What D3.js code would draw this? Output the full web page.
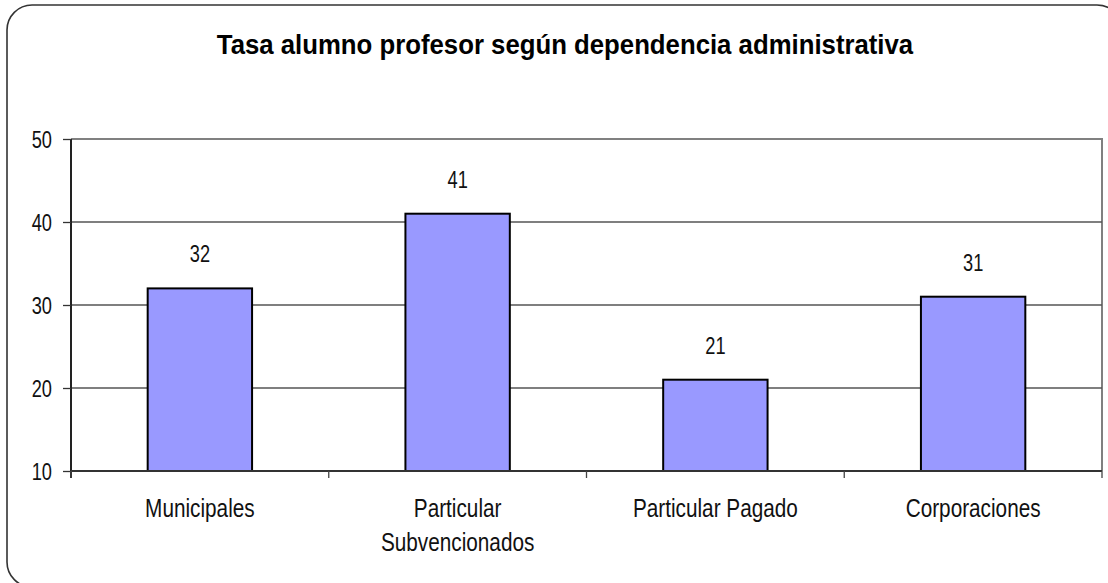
<!DOCTYPE html>
<html><head><meta charset="utf-8">
<script src="https://cdn.jsdelivr.net/npm/d3@7/dist/d3.min.js"></script>
<style>body{margin:0;background:#fff}svg{display:block}</style>
</head><body>
<svg id="c" width="1108" height="583"></svg>
<script>
const categories = [["Municipales"], ["Particular", "Subvencionados"], ["Particular Pagado"], ["Corporaciones"]];
const values = [32, 41, 21, 31];
const yTicks = [10, 20, 30, 40, 50];
const title = "Tasa alumno profesor según dependencia administrativa";

const svg = d3.select("#c");
const font = "'Liberation Sans', Arial, sans-serif";
const L = 71, R = 1102, T = 139, B = 471;
const SX = 0.83, SN = 0.76, ST = 0.92;

svg.append("rect").attr("x", 7).attr("y", 5).attr("width", 1115).attr("height", 582)
  .attr("rx", 25).attr("ry", 25).attr("fill", "#fff").attr("stroke", "#333").attr("stroke-width", 1.6);

const x = d3.scaleBand().domain(d3.range(categories.length)).range([L, R]).paddingInner(0).paddingOuter(0);
const y = d3.scaleLinear().domain([10, 50]).range([B, T]);

// plot border
svg.append("path").attr("d", `M${L},${T}H${R}V${B}`).attr("fill", "none").attr("stroke", "#808080").attr("stroke-width", 2);

// gridlines
svg.append("g").selectAll("line").data(yTicks.filter(d => d > 10 && d < 50)).join("line")
  .attr("x1", L).attr("x2", R).attr("y1", d => y(d)).attr("y2", d => y(d))
  .attr("stroke", "#555").attr("stroke-width", 1.3);

// bars
const bw = x.bandwidth() * 0.405;
svg.append("g").selectAll("rect").data(values).join("rect")
  .attr("x", (d, i) => x(i) + x.bandwidth() / 2 - bw / 2)
  .attr("y", d => y(d)).attr("width", bw).attr("height", d => y(10) - y(d))
  .attr("fill", "#9999FF").attr("stroke", "#000").attr("stroke-width", 2);

// value labels
svg.append("g").selectAll("text").data(values).join("text")
  .attr("transform", (d, i) => `translate(${x(i) + x.bandwidth() / 2},${y(d) - 26}) scale(${SN},1)`)
  .attr("text-anchor", "middle").attr("font-family", font).attr("font-size", 24).attr("fill", "#111")
  .text(d => d);

// y axis
const yAxis = svg.append("g").attr("transform", `translate(${L},0)`)
  .call(d3.axisLeft(y).tickValues(yTicks).tickSize(8).tickPadding(10).tickFormat(d3.format("d")));
yAxis.select(".domain").attr("stroke", "#222").attr("stroke-width", 2).attr("d", `M0,${T}V${B + 7}`);
yAxis.selectAll(".tick line").attr("stroke", "#333").attr("stroke-width", 1.3);
yAxis.selectAll(".tick text").attr("x", null).attr("dy", null)
  .attr("transform", "translate(-19,8) scale(" + SN + ",1)")
  .attr("text-anchor", "end")
  .attr("font-family", font).attr("font-size", 24).attr("fill", "#111");

// x axis
const xAxis = svg.append("g").attr("transform", `translate(0,${B})`);
xAxis.append("line").attr("x1", L).attr("x2", R).attr("y1", 0).attr("y2", 0).attr("stroke", "#333").attr("stroke-width", 2);
const bounds = d3.range(categories.length + 1).map(i => i < categories.length ? x(i) : x(i - 1) + x.bandwidth());
xAxis.selectAll("line.tk").data(bounds).join("line").attr("class", "tk")
  .attr("x1", d => d).attr("x2", d => d).attr("y1", 0).attr("y2", 7).attr("stroke", "#444").attr("stroke-width", 1.3);
const lbl = xAxis.selectAll("text.cat").data(categories).join("text").attr("class", "cat")
  .attr("transform", (d, i) => `translate(${x(i) + x.bandwidth() / 2},0) scale(${SX},1)`)
  .attr("text-anchor", "middle").attr("font-family", font).attr("font-size", 25).attr("fill", "#111");
lbl.selectAll("tspan").data(d => d).join("tspan")
  .attr("x", 0).attr("y", (d, j) => 46 + j * 34).text(d => d);

// title
svg.append("text").attr("transform", `translate(565,54) scale(${ST},1)`).attr("text-anchor", "middle")
  .attr("font-family", font).attr("font-weight", "bold").attr("font-size", 28).attr("fill", "#000").text(title);
</script>
</body></html>
